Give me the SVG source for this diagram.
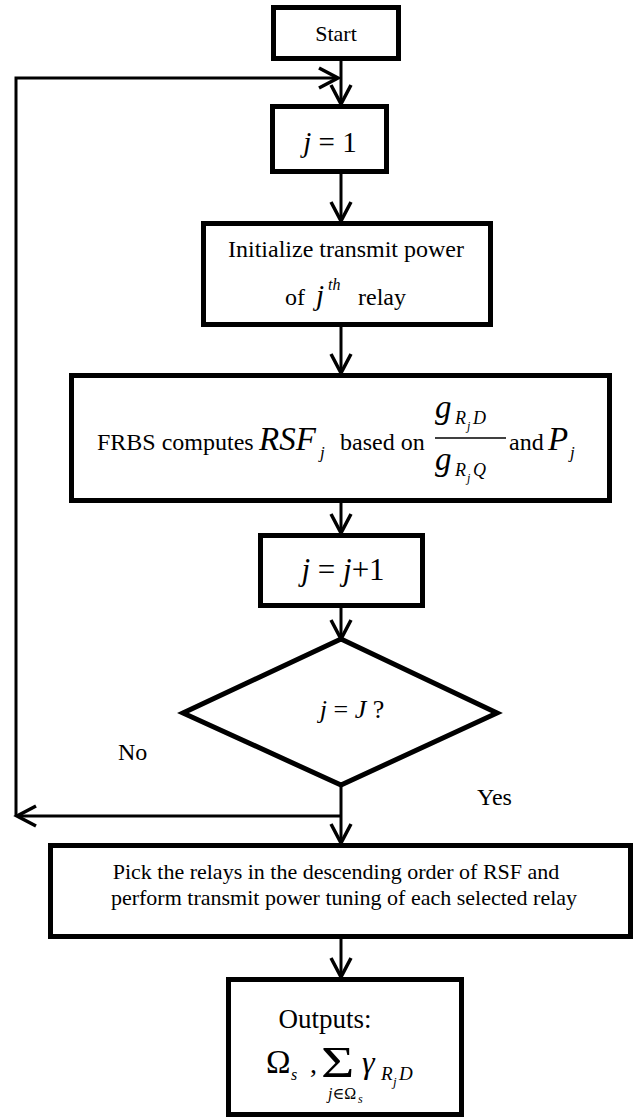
<svg xmlns="http://www.w3.org/2000/svg" width="635" height="1119" viewBox="0 0 635 1119" font-family="'Liberation Serif', 'Times New Roman', 'DejaVu Serif', serif">
<defs>
<marker id="arr" markerUnits="userSpaceOnUse" viewBox="-22 -12 24 24" refX="0" refY="0" markerWidth="24" markerHeight="24" orient="auto" overflow="visible">
<path d="M-19,-10 L0,0 L-19,10" fill="none" stroke="#000" stroke-width="3.5"/>
</marker>
</defs>
<style>
.box{fill:#fff;stroke:#000;stroke-width:5}
.con{fill:none;stroke:#000;stroke-width:3}
text{font-family:'Liberation Serif','Times New Roman','DejaVu Serif',serif;fill:#000;font-weight:normal}
.t{font-size:24px}
.it{font-style:italic}
</style>
<rect width="635" height="1119" fill="#fff"/>
<g id="connectors">
<path class="con" d="M341,61 V104" marker-end="url(#arr)"/>
<path class="con" d="M341,174 V221" marker-end="url(#arr)"/>
<path class="con" d="M341,327 V373" marker-end="url(#arr)"/>
<path class="con" d="M341,503 V533" marker-end="url(#arr)"/>
<path class="con" d="M341,608 V639" marker-end="url(#arr)"/>
<path class="con" d="M341,785 V843" marker-end="url(#arr)"/>
<path class="con" d="M341,816 H17" marker-end="url(#arr)"/>
<path class="con" d="M16,816 V78 H338" marker-end="url(#arr)"/>
<path class="con" d="M341,939 V977" marker-end="url(#arr)"/>
</g>
<g id="start">
<rect class="box" x="273.5" y="7.5" width="125" height="51"/>
<text x="336" y="41" font-size="22" text-anchor="middle">Start</text>
</g>
<g id="j1">
<rect class="box" x="272.5" y="106.5" width="114" height="65"/>
<text x="330" y="152" font-size="29" text-anchor="middle"><tspan class="it">j</tspan> = 1</text>
</g>
<g id="init">
<rect class="box" x="203.5" y="223.5" width="287" height="101"/>
<text x="346" y="257" class="t" text-anchor="middle">Initialize transmit power</text>
<text y="305" class="t"><tspan x="285">of</tspan><tspan x="316" class="it" font-size="29">j</tspan><tspan x="328" y="290" class="it" font-size="16">th</tspan><tspan x="358" y="305">relay</tspan></text>
</g>
<g id="frbs">
<rect class="box" x="71.5" y="375.5" width="538" height="125"/>
<text x="97" y="450" class="t">FRBS computes</text>
<text x="259" y="450" class="it" font-size="33">RSF</text>
<text x="320" y="458" class="it" font-size="17">j</text>
<text x="340" y="450" class="t">based on</text>
<line x1="435" y1="438" x2="506" y2="438" stroke="#000" stroke-width="1.5"/>
<text x="435" y="418" class="it" font-size="33">g</text>
<text x="455" y="424" class="it" font-size="18">R</text>
<text x="467" y="430" class="it" font-size="12">j</text>
<text x="473" y="424" class="it" font-size="18">D</text>
<text x="435" y="470" class="it" font-size="33">g</text>
<text x="455" y="476" class="it" font-size="18">R</text>
<text x="467" y="482" class="it" font-size="12">j</text>
<text x="473" y="476" class="it" font-size="18">Q</text>
<text x="509" y="450" class="t">and</text>
<text x="548" y="450" class="it" font-size="33">P</text>
<text x="570" y="458" class="it" font-size="17">j</text>
</g>
<g id="jinc">
<rect class="box" x="260.5" y="535.5" width="162" height="70"/>
<text x="343" y="580" font-size="31" text-anchor="middle"><tspan class="it">j</tspan> = <tspan class="it">j</tspan>+1</text>
</g>
<g id="decision">
<polygon class="box" points="341,639 497,713 341,785 183,713"/>
<text x="352" y="718" font-size="26" text-anchor="middle"><tspan class="it">j</tspan> = <tspan class="it">J</tspan> ?</text>
</g>
<text x="118" y="760" font-size="24">No</text>
<text x="477" y="805" font-size="24">Yes</text>
<g id="pick">
<rect class="box" x="50.5" y="845.5" width="580" height="91"/>
<text x="336" y="879" font-size="22" text-anchor="middle">Pick the relays in the descending order of RSF and</text>
<text x="344" y="905" font-size="22" text-anchor="middle">perform transmit power tuning of each selected relay</text>
</g>
<g id="outputs">
<rect class="box" x="228.5" y="979.5" width="233" height="135"/>
<text x="325" y="1028" font-size="27" text-anchor="middle">Outputs:</text>
<text x="266" y="1073" font-size="33">Ω</text>
<text x="291" y="1080" class="it" font-size="16">s</text>
<text x="310" y="1073" font-size="28">,</text>
<text transform="translate(321,1077) scale(1.3,1)" font-size="44">Σ</text>
<text x="328" y="1099" font-size="16"><tspan class="it">j</tspan>∈Ω</text>
<text x="358" y="1103" class="it" font-size="12">s</text>
<text x="362" y="1073" class="it" font-size="32">γ</text>
<text x="381" y="1080" class="it" font-size="19">R</text>
<text x="393" y="1086" class="it" font-size="13">j</text>
<text x="399" y="1080" class="it" font-size="19">D</text>
</g>
</svg>
